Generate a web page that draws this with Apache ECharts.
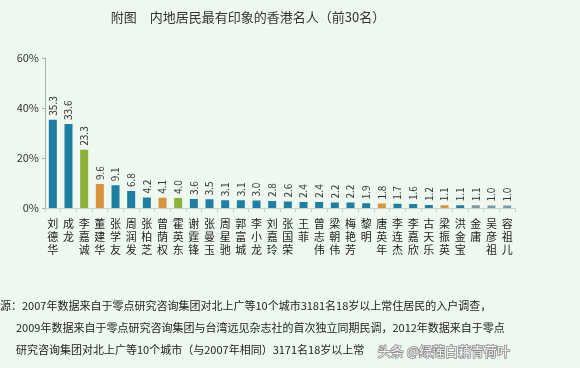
<!DOCTYPE html>
<html><head><meta charset="utf-8">
<script src="https://cdn.jsdelivr.net/npm/echarts@6/dist/echarts.min.js"></script>
<style>html,body{margin:0;padding:0;background:#eef8ee;}#c{width:580px;height:368px;}</style>
</head><body><div id="c"></div>
<script>
const names = ['刘德华','成龙','李嘉诚','董建华','张学友','周润发','张柏芝','曾荫权','霍英东','谢霆锋','张曼玉','周星驰','郭富城','李小龙','刘嘉玲','张国荣','王菲','曾志伟','梁朝伟','梅艳芳','黎明','唐英年','李连杰','李嘉欣','古天乐','梁振英','洪金宝','金庸','吴彦祖','容祖儿'];
const values = [35.3,33.6,23.3,9.6,9.1,6.8,4.2,4.1,4.0,3.6,3.5,3.1,3.1,3.0,2.8,2.6,2.4,2.4,2.2,2.2,1.9,1.8,1.7,1.6,1.2,1.1,1.1,1.1,1.0,1.0];
const groups = ['ent','ent','biz','pol','ent','ent','ent','pol','biz','ent','ent','ent','ent','ent','ent','ent','ent','ent','ent','ent','ent','pol','ent','ent','ent','pol','ent','misc','misc','misc'];
const yTicks = [0,20,40,60];
const titleText = '附图　内地居民最有印象的香港名人（前30名）';
const noteLines = [
  '源：2007年数据来自于零点研究咨询集团对北上广等10个城市3181名18岁以上常住居民的入户调查，',
  '2009年数据来自于零点研究咨询集团与台湾远见杂志社的首次独立同期民调，2012年数据来自于零点',
  '研究咨询集团对北上广等10个城市（与2007年相同）3171名18岁以上常'
];
const watermark = '头条 @绿莲白藕青荷叶';

const palette = {ent:'#1d7fa3', biz:'#8cb23a', pol:'#d8953c', misc:'#7d9aa3'};
const font = '"Noto Sans CJK SC", "Noto Sans", sans-serif';

const chart = echarts.init(document.getElementById('c'));
chart.setOption({
  backgroundColor: '#eef8ee',
  animation: false,
  title: {
    text: titleText, left: 243, top: 6, textAlign: 'center',
    textStyle: {fontSize: 13, fontWeight: 'normal', color: '#333', fontFamily: font}
  },
  grid: {left: 45, right: 65, top: 58, bottom: 160},
  xAxis: {
    type: 'category', data: names,
    axisLine: {lineStyle: {color: '#c8d0cc'}},
    axisTick: {show: true, length: 4, lineStyle: {color: '#c8d0cc'}},
    axisLabel: {
      interval: 0, margin: 9, color: '#222', fontSize: 11, lineHeight: 13, fontFamily: font,
      formatter: v => v.split('').join('\n')
    }
  },
  yAxis: {
    type: 'value', min: yTicks[0], max: yTicks[yTicks.length-1], interval: 20,
    splitLine: {show: false},
    axisLine: {show: true, lineStyle: {color: '#a9b0ad'}},
    axisTick: {show: true, length: 3, lineStyle: {color: '#a9b0ad'}},
    axisLabel: {color: '#333', fontSize: 11, margin: 6, fontFamily: font, formatter: v => v + '%'}
  },
  series: [{
    type: 'bar', barWidth: 8,
    data: values.map((v, i) => ({value: v, itemStyle: {color: palette[groups[i]]}})),
    label: {
      show: true, position: 'top', rotate: 90, align: 'left', verticalAlign: 'middle',
      distance: 4, fontSize: 10, color: '#333', fontFamily: font,
      formatter: p => p.value.toFixed(1)
    }
  }],
  graphic: [
    ...noteLines.map((t, i) => ({
      type: 'text', left: i === 0 ? 0 : 16, top: 300 + i * 22,
      style: {text: t, fontSize: 11, fill: '#222', fontFamily: font}
    })),
    {type: 'text', left: 377, top: 344,
     style: {text: watermark, fontSize: 13, fill: '#f4f4f4', stroke: '#8a8a8a', lineWidth: 1.5, fontFamily: font}}
  ]
});
</script></body></html>
